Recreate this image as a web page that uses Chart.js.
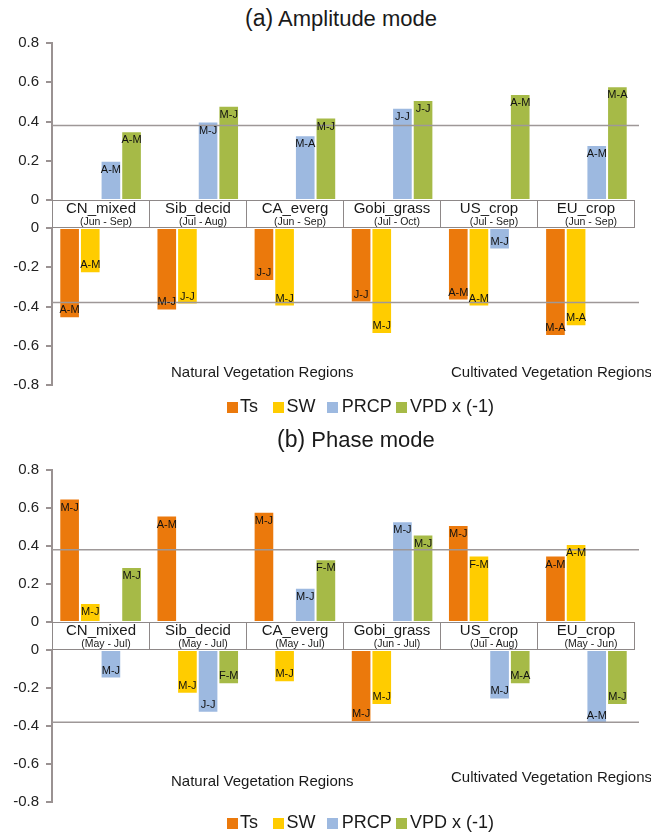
<!DOCTYPE html>
<html><head><meta charset="utf-8">
<script src="https://cdn.jsdelivr.net/npm/chart.js@4"></script>
<style>
html,body{margin:0;padding:0;background:#fff;}
body{width:651px;height:836px;position:relative;overflow:hidden;font-family:"Liberation Sans",Arial,sans-serif;color:#1a1a1a;}
canvas{position:absolute;left:0;}
.title{position:absolute;font-size:22px;line-height:22px;white-space:nowrap;}
.title .tag{font-size:23px;}
.box{position:absolute;left:52px;width:583px;height:28px;display:flex;box-sizing:border-box;border:1.5px solid #8e8888;background:transparent;}
.cell{flex:1;position:relative;border-right:1.5px solid #8e8888;text-align:center;white-space:nowrap;}
.cell:last-child{border-right:none;}
.nm{position:absolute;left:0;right:0;top:-1px;font-size:15px;line-height:15px;}
.sub{position:absolute;left:10px;right:0;top:15px;font-size:10.5px;line-height:10.5px;}
.region{position:absolute;font-size:15px;line-height:15px;white-space:nowrap;}
.sq{position:absolute;width:11px;height:11px;}
.lt{position:absolute;font-size:18px;line-height:18px;white-space:nowrap;}
</style></head>
<body>
<div class="title" style="left:245px;top:7px;"><span class="tag">(a)</span> Amplitude mode</div>
<canvas id="ampUp" width="640" height="197" style="top:23px;width:640px;height:197px;"></canvas>
<canvas id="ampLo" width="640" height="197" style="top:208px;width:640px;height:197px;"></canvas>
<div class="box" id="ampBox" style="top:200px;"></div>
<div class="region" style="left:171px;top:364px;">Natural Vegetation Regions</div>
<div class="region" style="left:451px;top:364px;">Cultivated Vegetation Regions</div>
<div id="ampLegend"></div>

<div class="title" style="left:277px;top:428px;"><span class="tag">(b)</span> Phase mode</div>
<canvas id="phUp" width="640" height="192" style="top:450px;width:640px;height:192px;"></canvas>
<canvas id="phLo" width="640" height="192" style="top:630px;width:640px;height:192px;"></canvas>
<div class="box" id="phBox" style="top:622px;"></div>
<div class="region" style="left:171px;top:773px;">Natural Vegetation Regions</div>
<div class="region" style="left:451px;top:769px;">Cultivated Vegetation Regions</div>
<div id="phLegend"></div>

<script>
// ---- categories ----
const regions = ['CN_mixed', 'Sib_decid', 'CA_everg', 'Gobi_grass', 'US_crop', 'EU_crop'];
const ampPeriods = ['(Jun - Sep)', '(Jul - Aug)', '(Jun - Sep)', '(Jul - Oct)', '(Jul - Sep)', '(Jun - Sep)'];
const phasePeriods = ['(May - Jul)', '(May - Jul)', '(May - Jul)', '(Jun - Jul)', '(Jul - Aug)', '(May - Jun)'];
const seriesNames = ['Ts', 'SW', 'PRCP', 'VPD x (-1)'];
const seriesColors = ['#EB790C', '#FFCC00', '#9DB9E0', '#A6BA47'];

// ---- tick labels ----
const yTicksUpper = ['0', '0.2', '0.4', '0.6', '0.8'];
const yTicksLower = ['-0.8', '-0.6', '-0.4', '-0.2', '0'];
const threshold = 0.38;

// ---- (a) amplitude mode values ----
const ampTs   = [-0.46, -0.42, -0.27, -0.38, -0.37, -0.55];
const ampSW   = [-0.23, -0.39, -0.40, -0.54, -0.40, -0.50];
const ampPRCP = [0.20, 0.40, 0.33, 0.47, -0.11, 0.28];
const ampVPD  = [0.35, 0.48, 0.42, 0.51, 0.54, 0.58];
// ---- (a) bar labels ----
const ampTsMonths   = ['A-M', 'M-J', 'J-J', 'J-J', 'A-M', 'M-A'];
const ampSWMonths   = ['A-M', 'J-J', 'M-J', 'M-J', 'A-M', 'M-A'];
const ampPRCPMonths = ['A-M', 'M-J', 'M-A', 'J-J', 'M-J', 'A-M'];
const ampVPDMonths  = ['A-M', 'M-J', 'M-J', 'J-J', 'A-M', 'M-A'];

// ---- (b) phase mode values ----
const phTs   = [0.65, 0.56, 0.58, -0.38, 0.51, 0.35];
const phSW   = [0.10, -0.23, -0.17, -0.29, 0.35, 0.41];
const phPRCP = [-0.15, -0.33, 0.18, 0.53, -0.26, -0.39];
const phVPD  = [0.29, -0.18, 0.33, 0.46, -0.18, -0.29];
// ---- (b) bar labels ----
const phTsMonths   = ['M-J', 'A-M', 'M-J', 'M-J', 'M-J', 'A-M'];
const phSWMonths   = ['M-J', 'M-J', 'M-J', 'M-J', 'F-M', 'A-M'];
const phPRCPMonths = ['M-J', 'J-J', 'M-J', 'M-J', 'M-J', 'A-M'];
const phVPDMonths  = ['M-J', 'F-M', 'F-M', 'M-J', 'M-A', 'M-J'];

const FONT = '"Liberation Sans", Arial, sans-serif';
const AXIS = '#9a9292';

const thresholdPlugin = (upper) => ({
  id: 'threshold',
  afterDatasetsDraw(chart) {
    const {ctx, chartArea, scales} = chart;
    const y = scales.y.getPixelForValue(upper ? threshold : -threshold);
    ctx.save();
    ctx.strokeStyle = '#9e9898';
    ctx.lineWidth = 1.5;
    ctx.beginPath();
    ctx.moveTo(chartArea.left, y);
    ctx.lineTo(chartArea.right + 4, y);
    ctx.stroke();
    ctx.restore();
  }
});

const barLabelPlugin = (upper) => ({
  id: 'barLabels',
  afterDatasetsDraw(chart) {
    const ctx = chart.ctx;
    ctx.save();
    ctx.font = '11px ' + FONT;
    ctx.fillStyle = '#111';
    ctx.textAlign = 'center';
    ctx.textBaseline = 'middle';
    chart.data.datasets.forEach((ds, di) => {
      const meta = chart.getDatasetMeta(di);
      meta.data.forEach((el, i) => {
        if (ds.data[i] === null) return;
        const y = upper ? el.y + 9 : el.y - 8;
        ctx.fillText(ds.barLabels[i], el.x, y);
      });
    });
    ctx.restore();
  }
});

function makeChart(id, valueArrays, labelArrays, upper) {
  const keep = v => upper ? (v > 0 ? v : null) : (v < 0 ? v : null);
  const datasets = valueArrays.map((arr, s) => ({
    label: seriesNames[s],
    data: arr.map(keep),
    barLabels: labelArrays[s],
    backgroundColor: seriesColors[s],
    borderColor: 'rgba(255,255,255,0.45)',
    borderWidth: 1,
    categoryPercentage: 0.85,
    barPercentage: 1.0
  }));
  const tickLabels = upper ? yTicksUpper : yTicksLower;
  return new Chart(document.getElementById(id), {
    type: 'bar',
    data: {labels: regions, datasets},
    options: {
      responsive: false,
      animation: false,
      devicePixelRatio: 1,
      layout: {padding: {top: 20, bottom: 20, left: 0, right: 5}},
      plugins: {legend: {display: false}, tooltip: {enabled: false}},
      scales: {
        x: {display: false},
        y: {
          min: upper ? 0 : -0.8,
          max: upper ? 0.8 : 0,
          ticks: {stepSize: 0.2, padding: 7, color: '#222', font: {family: FONT, size: 15},
                  callback: (v, i) => tickLabels[i]},
          grid: {drawOnChartArea: false, drawTicks: true, tickLength: 6, color: AXIS, lineWidth: 2},
          border: {display: true, color: AXIS, width: 2},
          afterFit: s => { s.width = 52; }
        }
      }
    },
    plugins: [thresholdPlugin(upper), barLabelPlugin(upper)]
  });
}

const ampValues = [ampTs, ampSW, ampPRCP, ampVPD];
const ampLabels = [ampTsMonths, ampSWMonths, ampPRCPMonths, ampVPDMonths];
const phValues = [phTs, phSW, phPRCP, phVPD];
const phLabels = [phTsMonths, phSWMonths, phPRCPMonths, phVPDMonths];

makeChart('ampUp', ampValues, ampLabels, true);
makeChart('ampLo', ampValues, ampLabels, false);
makeChart('phUp', phValues, phLabels, true);
makeChart('phLo', phValues, phLabels, false);

function fillBox(id, periods) {
  const box = document.getElementById(id);
  regions.forEach((r, i) => {
    const c = document.createElement('div');
    c.className = 'cell';
    c.innerHTML = '<div class="nm"></div><div class="sub"></div>';
    c.children[0].textContent = r;
    c.children[1].textContent = periods[i];
    box.appendChild(c);
  });
}
fillBox('ampBox', ampPeriods);
fillBox('phBox', phasePeriods);

const legendSq = [226.7, 272.5, 327.3, 396];
const legendTx = [240, 286.5, 341.7, 410];
function fillLegend(id, sqTop, txTop) {
  const host = document.getElementById(id);
  seriesNames.forEach((n, i) => {
    const s = document.createElement('div');
    s.className = 'sq';
    s.style.left = legendSq[i] + 'px';
    s.style.top = sqTop + 'px';
    s.style.background = seriesColors[i];
    host.appendChild(s);
    const t = document.createElement('div');
    t.className = 'lt';
    t.style.left = legendTx[i] + 'px';
    t.style.top = txTop + 'px';
    t.textContent = n;
    host.appendChild(t);
  });
}
fillLegend('ampLegend', 401.7, 396.8);
fillLegend('phLegend', 818, 813);
</script>
</body></html>
